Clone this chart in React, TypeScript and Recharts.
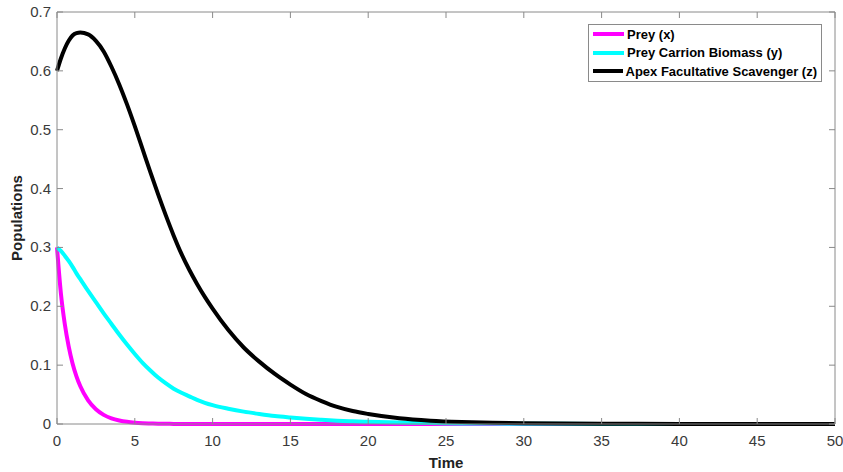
import { Legend, Line, LineChart, XAxis, YAxis } from "recharts";

const time = [0, 0.25, 0.5, 0.75, 1, 1.25, 1.5, 2, 2.5, 3, 3.5, 4, 4.5, 5, 5.5, 6, 6.5, 7, 7.5, 8, 8.5, 9, 9.5, 10, 11, 12, 13, 14, 15, 16, 17, 18, 19, 20, 22, 24, 26, 28, 30, 35, 40, 45, 50];
const prey = [0.3, 0.222, 0.17, 0.132, 0.103, 0.081, 0.064, 0.04, 0.025, 0.0155, 0.0096, 0.006, 0.0037, 0.0023, 0.0014, 0.0009, 0.0005, 0.0003, 0.0002, 0.0001, 0.00005, 0, 0, 0, 0, 0, 0, 0, 0, 0, 0, 0, 0, 0, 0, 0, 0, 0, 0, 0, 0, 0, 0];
const carrion = [0.3, 0.294, 0.286, 0.277, 0.267, 0.256, 0.246, 0.226, 0.207, 0.188, 0.17, 0.152, 0.135, 0.119, 0.104, 0.091, 0.079, 0.069, 0.06, 0.053, 0.047, 0.041, 0.036, 0.032, 0.026, 0.021, 0.017, 0.0135, 0.011, 0.0088, 0.0071, 0.0057, 0.0046, 0.0037, 0.0024, 0.0016, 0.001, 0.0007, 0.00045, 0.00012, 0, 0, 0];
const scavenger = [0.6, 0.621, 0.638, 0.651, 0.66, 0.664, 0.665, 0.662, 0.651, 0.633, 0.607, 0.577, 0.543, 0.506, 0.467, 0.428, 0.39, 0.354, 0.32, 0.289, 0.262, 0.238, 0.216, 0.196, 0.16, 0.13, 0.106, 0.085, 0.067, 0.051, 0.039, 0.029, 0.022, 0.017, 0.0098, 0.0057, 0.0034, 0.002, 0.0012, 0.0004, 0.0001, 0, 0];

const xTicks = [0, 5, 10, 15, 20, 25, 30, 35, 40, 45, 50];
const yTicks = [0, 0.1, 0.2, 0.3, 0.4, 0.5, 0.6, 0.7];

const series = [
  { key: "prey", name: "Prey (x)", color: "#ff00ff" },
  { key: "carrion", name: "Prey Carrion Biomass (y)", color: "#00ffff" },
  { key: "scavenger", name: "Apex Facultative Scavenger (z)", color: "#000000" },
];

const data = time.map((t, i) => ({ t, prey: prey[i], carrion: carrion[i], scavenger: scavenger[i] }));

const AXIS = "#8a8a8a";
const TXT = "#3a3a3a";
const FONT = "'Liberation Sans', Arial, sans-serif";

function BottomTick({ x, y, payload }: any) {
  return (
    <g>
      <line x1={x} x2={x} y1={y} y2={y - 6} stroke={AXIS} />
      <text x={x} y={y + 22} textAnchor="middle" fontSize={15} fill={TXT} fontFamily={FONT}>
        {payload.value}
      </text>
    </g>
  );
}

function LeftTick({ x, y, payload }: any) {
  return (
    <g>
      <line x1={x} x2={x + 6} y1={y} y2={y} stroke={AXIS} />
      <text x={x - 6} y={y + 5} textAnchor="end" fontSize={15} fill={TXT} fontFamily={FONT}>
        {payload.value}
      </text>
    </g>
  );
}

function TopTick({ x, y }: any) {
  return <line x1={x} x2={x} y1={y} y2={y + 6} stroke={AXIS} />;
}

function RightTick({ x, y }: any) {
  return <line x1={x} x2={x - 6} y1={y} y2={y} stroke={AXIS} />;
}

function LegendBox() {
  return (
    <div style={{ border: "1px solid #8a8a8a", background: "#fff", padding: "0 4px", fontFamily: FONT }}>
      {series.map((s) => (
        <div key={s.key} style={{ display: "flex", alignItems: "center", height: 18.5 }}>
          <span style={{ display: "inline-block", width: 31, height: 4, background: s.color, marginRight: 3 }} />
          <span style={{ fontSize: 13, fontWeight: "bold", color: "#000", whiteSpace: "nowrap" }}>{s.name}</span>
        </div>
      ))}
    </div>
  );
}

export default function App() {
  return (
    <div style={{ position: "absolute", left: 0, top: 0, width: 843, height: 472, background: "#fff" }}>
      <LineChart width={843} height={472} data={data} margin={{ top: 11, right: 7, left: 0, bottom: 0 }}>
        <XAxis
          dataKey="t"
          type="number"
          domain={[0, 50]}
          ticks={xTicks}
          height={48}
          stroke={AXIS}
          tickLine={false}
          tickSize={0}
          tickMargin={0}
          tick={<BottomTick />}
          label={{ value: "Time", position: "insideBottom", offset: 4, style: { fontSize: 15, fontWeight: "bold", fill: "#222", fontFamily: FONT } }}
        />
        <XAxis xAxisId="top" orientation="top" dataKey="t" type="number" domain={[0, 50]} ticks={xTicks} height={1} stroke={AXIS} tickLine={false} tickSize={0} tickMargin={0} tick={<TopTick />} />
        <YAxis
          type="number"
          domain={[0, 0.7]}
          ticks={yTicks}
          width={57}
          stroke={AXIS}
          tickLine={false}
          tickSize={0}
          tickMargin={0}
          tick={<LeftTick />}
          label={{ value: "Populations", angle: -90, position: "insideLeft", offset: 17, style: { fontSize: 15, fontWeight: "bold", fill: "#222", fontFamily: FONT, textAnchor: "middle" } }}
        />
        <YAxis yAxisId="right" orientation="right" type="number" domain={[0, 0.7]} ticks={yTicks} width={1} stroke={AXIS} tickLine={false} tickSize={0} tickMargin={0} tick={<RightTick />} />
        <Legend
          layout="horizontal"
          verticalAlign="middle"
          align="center"
          content={<LegendBox />}
          wrapperStyle={{ top: 24, left: 588, width: 234 }}
        />
        <Line xAxisId="top" yAxisId="right" dataKey="scavenger" stroke="none" dot={false} legendType="none" isAnimationActive={false} />
        {series.map((s) => (
          <Line key={s.key} type="monotone" dataKey={s.key} name={s.name} stroke={s.color} strokeWidth={4} dot={false} isAnimationActive={false} />
        ))}
      </LineChart>
    </div>
  );
}
